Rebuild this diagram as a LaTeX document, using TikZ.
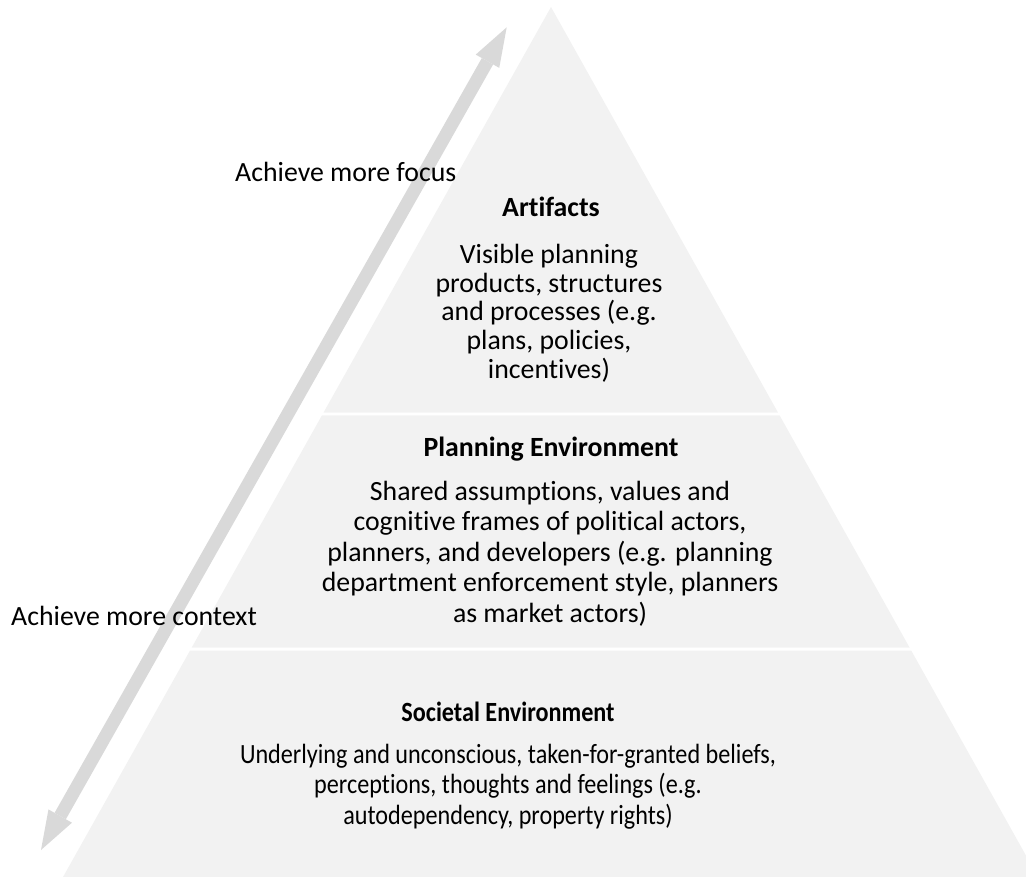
\documentclass[tikz,border=0pt]{standalone}
\usepackage{fontspec}
\setmainfont{Carlito}[Ligatures=NoCommon]
\newfontfamily\narrowfont[FakeStretch=0.87,Ligatures=NoCommon]{Carlito}
\usetikzlibrary{calc,arrows.meta}

\definecolor{bandgray}{HTML}{F2F2F2}
\definecolor{arrowgray}{HTML}{D9D9D9}

\tikzset{
  band/.style={fill=bandgray, draw=none},
  twoway/.style={draw=arrowgray, line width=13pt,
    {Triangle[length=39pt,width=27pt,line width=0pt]}-{Triangle[length=39pt,width=27pt,line width=0pt]}},
  sidelabel/.style={anchor=base west, inner sep=0pt, font=\fontsize{27.8}{29}\selectfont},
  heading/.style={anchor=base, inner sep=0pt, font=\fontsize{27.8}{29}\selectfont\bfseries},
  % multi-line text: the base anchor sits on the last line's baseline
  bodytext/.style={anchor=base, inner sep=0pt, align=center},
}

\begin{document}
\begin{tikzpicture}[x=1pt,y=-1pt]
  \useasboundingbox (0,0) rectangle (1026,877);
  \clip (0,0) rectangle (1026,877);

  % pyramid corners
  \coordinate (apex) at (551,7);
  \coordinate (bl) at (63,877);
  \coordinate (br) at (1038,877);

  % three bands separated by thin white gaps
  \fill[band] (apex) -- ($(apex)!0.4661!(bl)$) -- ($(apex)!0.4661!(br)$) -- cycle;
  \fill[band] ($(apex)!0.4695!(bl)$) -- ($(apex)!0.7362!(bl)$)
              -- ($(apex)!0.7362!(br)$) -- ($(apex)!0.4695!(br)$) -- cycle;
  \fill[band] ($(apex)!0.7397!(bl)$) -- (bl) -- (br) -- ($(apex)!0.7397!(br)$) -- cycle;

  % double-headed arrow along the left side
  \coordinate (lo) at (41,850);
  \coordinate (hi) at (506.7,27.3);
  \draw[twoway] (lo) -- (hi);

  % side labels
  \node[sidelabel] (focus) at (235,182) {Achieve more focus};
  \node[sidelabel] (context) at (11,625) {Achieve more context};

  % top band
  \node[heading] (t1) at (551,217) {Artifacts};
  \node[bodytext, font=\fontsize{27.8}{28.8}\selectfont] (b1) at (549,378.5)
    {Visible planning\\products, structures\\and processes (e.g.\\plans, policies,\\incentives)};

  % middle band
  \node[heading] (t2) at (551,456) {Planning Environment};
  \node[bodytext, font=\fontsize{27.8}{30.5}\selectfont] (b2) at (550,622)
    {Shared assumptions, values and\\cognitive frames of political actors,\\planners, and developers (e.g. planning\\department enforcement style, planners\\as market actors)};

  % bottom band
  \node[heading, font=\fontsize{27.8}{29}\selectfont\narrowfont\bfseries] (t3) at (508,721) {Societal Environment};
  \node[bodytext, font=\fontsize{27.8}{30.5}\selectfont\narrowfont] (b3) at (508,824)
    {Underlying and unconscious, taken-for-granted beliefs,\\perceptions, thoughts and feelings (e.g.\\autodependency, property rights)};
\end{tikzpicture}
\end{document}
